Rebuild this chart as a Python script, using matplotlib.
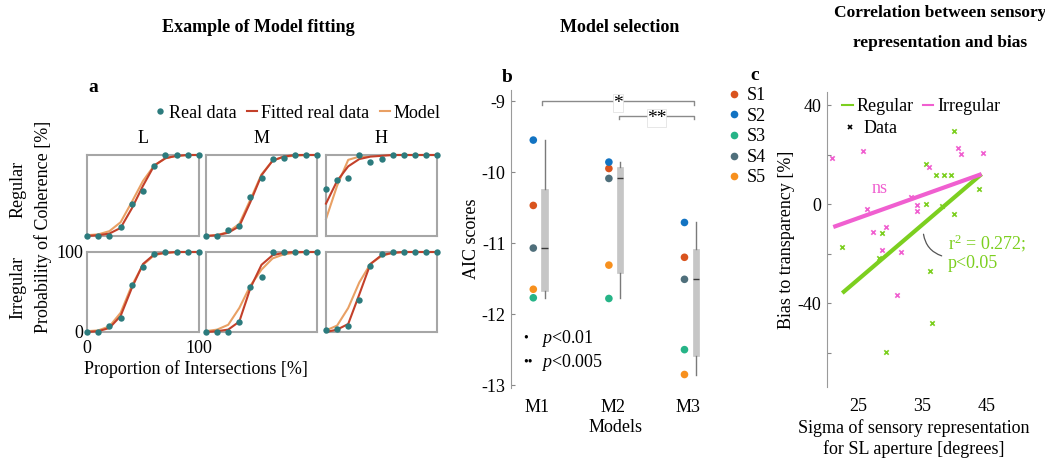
import numpy as np
import matplotlib
matplotlib.use("Agg")
import matplotlib.pyplot as plt
from matplotlib.lines import Line2D

plt.rcParams["font.family"] = ["Liberation Serif", "DejaVu Serif"]
plt.rcParams["mathtext.fontset"] = "custom"
plt.rcParams["mathtext.rm"] = "Liberation Serif"
plt.rcParams["mathtext.it"] = "Liberation Serif:italic"

# ---------------- data ----------------
# (a) psychometric curves, x = proportion of intersections
prop_x = [0, 10, 20, 30, 40, 50, 60, 70, 80, 90, 100]
levels = ["L", "M", "H"]
conditions = ["Regular", "Irregular"]

real_reg_L = [0, 0, 0, 11, 40, 55, 86, 100, 100, 100, 100]
real_reg_M = [0, 0, 8, 12, 48, 71, 95, 96, 100, 100, 100]
real_reg_H = [58, 69, 72, 100, 91, 95, 100, 100, 100, 100, 100]
real_irr_L = [0, 0, 8, 18, 59, 81, 97, 100, 100, 100, 100]
real_irr_M = [0, 0, 0, 13, 56, 69, 100, 100, 100, 100, 100]
real_irr_H = [3, 4, 7, 40, 83, 97, 100, 100, 100, 100, 100]

fit_reg_L = [0, 1, 3, 10, 34, 62, 87, 96, 99, 100, 100]
fit_reg_M = [0, 1, 4, 12, 42, 75, 93, 98, 100, 100, 100]
fit_reg_H = [40, 68, 86, 95, 98, 99, 100, 100, 100, 100, 100]
fit_irr_L = [0, 1, 5, 20, 55, 85, 97, 99, 100, 100, 100]
fit_irr_M = [0, 1, 3, 13, 55, 84, 96, 99, 100, 100, 100]
fit_irr_H = [0, 3, 10, 47, 85, 96, 99, 100, 100, 100, 100]

model_reg_L = [1, 2, 6, 17, 42, 68, 87, 96, 99, 100, 100]
model_reg_M = [0, 1, 5, 15, 45, 76, 93, 98, 99, 100, 100]
model_reg_H = [21, 62, 94, 98, 99, 100, 100, 100, 100, 100, 100]
model_irr_L = [1, 2, 7, 24, 58, 84, 96, 99, 100, 100, 100]
model_irr_M = [1, 3, 9, 30, 58, 78, 92, 97, 99, 100, 100]
model_irr_H = [2, 8, 30, 62, 85, 95, 99, 100, 100, 100, 100]

real_data = [[real_reg_L, real_reg_M, real_reg_H], [real_irr_L, real_irr_M, real_irr_H]]
fitted = [[fit_reg_L, fit_reg_M, fit_reg_H], [fit_irr_L, fit_irr_M, fit_irr_H]]
model = [[model_reg_L, model_reg_M, model_reg_H], [model_irr_L, model_irr_M, model_irr_H]]

# (b) AIC scores per subject for each model
models = ["M1", "M2", "M3"]
subjects = ["S1", "S2", "S3", "S4", "S5"]
aic_M1 = [-10.47, -9.55, -11.77, -11.07, -11.65]
aic_M2 = [-9.95, -9.86, -11.78, -10.09, -11.31]
aic_M3 = [-11.20, -10.71, -12.50, -11.51, -12.85]
subject_colors = ["#d9541e", "#1273c2", "#26b487", "#4f6f7b", "#f7901e"]

# (c) bias vs. sigma of sensory representation
reg_sigma = [22.4, 28.7, 28.2, 29.3, 35.5, 35.5, 36.1, 36.5, 37.1, 38.0, 38.4, 39.4, 39.9, 39.9, 43.8]
reg_bias = [-17.4, -11.7, -21.8, -59.8, 16.3, 0.0, -27.0, -48.1, 12.0, -0.7, 11.8, 12.0, 29.6, -4.0, 6.3]
irr_sigma = [20.9, 25.8, 26.3, 27.3, 29.3, 28.7, 31.6, 31.1, 33.2, 34.1, 34.1, 36.0, 40.5, 41.0, 44.4]
irr_bias = [18.8, 21.7, -2.0, -11.3, -9.3, -18.5, -19.4, -36.5, 2.8, -0.2, -2.6, 14.9, 22.7, 20.3, 20.7]
reg_line_x = [22.5, 44.2]
reg_line_y = [-35.9, 12.2]
irr_line_x = [21.1, 44.2]
irr_line_y = [-9.2, 12.2]

# ---------------- styling ----------------
W, H = 1045, 458
fig = plt.figure(figsize=(W / 100, H / 100), dpi=100)


def box(l, t, r, b):
    return [l / W, 1 - b / H, (r - l) / W, (b - t) / H]


FS = 13
TEAL = "#2c7b7d"
RED = "#c3402a"
ORANGE = "#e9a064"
FRAME = "#a6a6a6"
GREEN = "#7ccf1f"
PINK = "#f05fd0"

# ---------------- panel a ----------------
col_px = [(87, 199), (206, 317), (326, 437)]
row_px = [(155, 236), (252, 332)]
for r, (t, b) in enumerate(row_px):
    for c, (l, rr) in enumerate(col_px):
        ax = fig.add_axes(box(l, t, rr, b))
        ax.plot(prop_x, model[r][c], color=ORANGE, lw=1.5, clip_on=False, zorder=2)
        ax.plot(prop_x, fitted[r][c], color=RED, lw=1.5, clip_on=False, zorder=3)
        ax.plot(prop_x, real_data[r][c], "o", color=TEAL, ms=4.6, mec="none",
                clip_on=False, zorder=4)
        ax.set_xlim(0, 100)
        ax.set_ylim(0, 100)
        for s in ax.spines.values():
            s.set_color(FRAME)
            s.set_linewidth(1.5)
        if r == 1 and c == 0:
            ax.set_xticks([0, 100])
            ax.set_yticks([0, 100])
            ax.tick_params(length=0, labelsize=FS)
            ax.tick_params(axis="x", pad=6)
            ax.tick_params(axis="y", pad=3)
        else:
            ax.set_xticks([])
            ax.set_yticks([])
        if r == 0:
            ax.text(0.5, 1.1, levels[c], transform=ax.transAxes, ha="center",
                    va="bottom", fontsize=FS)

fig.text(18 / W, 1 - 189 / H, conditions[0], rotation=90, ha="center", va="center", fontsize=FS)
fig.text(18 / W, 1 - 287 / H, conditions[1], rotation=90, ha="center", va="center", fontsize=FS)
fig.text(43 / W, 1 - 227 / H, "Probability of Coherence [%]", rotation=90,
         ha="center", va="center", fontsize=FS)
fig.text(196 / W, 1 - 369 / H, "Proportion of Intersections [%]", ha="center",
         va="center", fontsize=FS)
fig.text(93 / W, 1 - 88 / H, "a", ha="center", va="center", fontsize=14, fontweight="bold")

handles_a = [
    Line2D([], [], ls="none", marker="o", color=TEAL, ms=4.6, mec="none"),
    Line2D([], [], color=RED, lw=1.5),
    Line2D([], [], color=ORANGE, lw=1.5),
]
fig.legend(handles_a, ["Real data", "Fitted real data", "Model"], loc="center",
           bbox_to_anchor=(298 / W, 1 - 113 / H), ncol=3, frameon=False,
           fontsize=FS, handlelength=0.55, handletextpad=0.2, columnspacing=0.6)

fig.text(258 / W, 1 - 28 / H, "Example of Model fitting", ha="center", va="center",
         fontsize=13, fontweight="bold")

# ---------------- panel b ----------------
axb = fig.add_axes(box(511, 90, 720, 388))
aic_all = [aic_M1, aic_M2, aic_M3]
pos = np.arange(1, len(models) + 1)
for i, vals in enumerate(aic_all):
    axb.scatter([pos[i] - 0.05] * len(vals), vals, s=30, c=subject_colors,
                edgecolors="none", zorder=3, clip_on=False)

stats = []
for vals in aic_all:
    q1, med, q3 = np.percentile(vals, [25, 50, 75], method="hazen")
    stats.append(dict(med=med, q1=q1, q3=q3, whislo=min(vals), whishi=max(vals), fliers=[]))
axb.bxp(stats, positions=pos + 0.10, widths=0.085, patch_artist=True, showcaps=False,
        boxprops=dict(facecolor="#c6c6c6", edgecolor="#c6c6c6", lw=0.5),
        whiskerprops=dict(color="#7a7a7a", lw=1.0),
        medianprops=dict(color="#3a3a3a", lw=1.0), manage_ticks=False)

axb.set_xlim(0.655, 3.42)
axb.set_ylim(-13.04, -8.845)
axb.set_xticks(pos)
axb.set_xticklabels(models)
axb.set_yticks([-9, -10, -11, -12, -13])
axb.set_yticklabels(["-9", "-10", "-11", "-12", "-13"])
axb.tick_params(axis="x", length=0, labelsize=FS, pad=8)
axb.tick_params(axis="y", direction="in", length=3, color="#888888", labelsize=FS, pad=4)
for k in ["top", "right", "bottom"]:
    axb.spines[k].set_visible(False)
axb.spines["left"].set_color("#9a9a9a")
axb.set_xlabel("Models", fontsize=FS, labelpad=2)
axb.set_ylabel("AIC scores", fontsize=FS, labelpad=1)

# significance brackets
def bracket(x0, x1, y, label):
    axb.plot([x0, x0, x1, x1], [y - 0.05, y, y, y - 0.05], color="#8a8a8a", lw=1.0, clip_on=False)
    axb.text((x0 + x1) / 2, y - 0.03, label, ha="center", va="center", fontsize=14,
             bbox=dict(facecolor="white", edgecolor="#dddddd", pad=0.2, lw=0.5))

bracket(1.07, 3.08, -9.0, "*")
bracket(2.08, 3.08, -9.21, "**")

axb.text(0.82, -12.34, "\u2022", fontsize=10, ha="left", va="center")
axb.text(1.05, -12.34, "$p$<0.01", fontsize=FS, ha="left", va="center")
axb.text(0.82, -12.68, "\u2022\u2022", fontsize=10, ha="left", va="center")
axb.text(1.05, -12.68, "$p$<0.005", fontsize=FS, ha="left", va="center")
fig.text(507 / W, 1 - 77 / H, "b", ha="center", va="center", fontsize=14, fontweight="bold")

handles_b = [Line2D([], [], ls="none", marker="o", color=c, ms=5.5, mec="none")
             for c in subject_colors]
fig.legend(handles_b, subjects, loc="upper left", bbox_to_anchor=(718 / W, 1 - 78 / H),
           frameon=False, fontsize=FS, handlelength=0.8, handletextpad=0.3,
           labelspacing=0.2, borderpad=0)

fig.text(620 / W, 1 - 28 / H, "Model selection", ha="center", va="center",
         fontsize=13, fontweight="bold")

# ---------------- panel c ----------------
axc = fig.add_axes(box(827, 92, 1000, 387))
axc.scatter(reg_sigma, reg_bias, marker="x", s=10, lw=1.2, color=GREEN, zorder=3)
axc.scatter(irr_sigma, irr_bias, marker="x", s=10, lw=1.2, color=PINK, zorder=3)
axc.plot(reg_line_x, reg_line_y, color=GREEN, lw=3, solid_capstyle="butt", zorder=2)
axc.plot(irr_line_x, irr_line_y, color=PINK, lw=3, solid_capstyle="butt", zorder=2)
axc.set_xlim(20.12, 47.07)
axc.set_ylim(-73.9, 45.4)
axc.set_xticks([25, 35, 45])
axc.set_yticks([-60, -40, -20, 0, 20, 40])
axc.set_yticklabels(["", "-40", "", "0", "", "40"])
axc.tick_params(axis="x", length=0, labelsize=FS, pad=8)
axc.tick_params(axis="y", direction="in", length=3, color="#888888", labelsize=FS, pad=4)
for k in ["top", "right", "bottom"]:
    axc.spines[k].set_visible(False)
axc.spines["left"].set_color("#9a9a9a")
axc.set_xlabel("Sigma of sensory representation\nfor SL aperture [degrees]", fontsize=FS,
               labelpad=3, linespacing=1.25)
axc.set_ylabel("Bias to transparency [%]", fontsize=FS, labelpad=2)

axc.text(28.3, 3.0, "ns", color=PINK, fontsize=FS, ha="center", va="bottom")
axc.text(38.9, -15.6, "r$^2$ = 0.272;", color=GREEN, fontsize=FS, ha="left", va="center")
axc.text(38.9, -23.8, "p<0.05", color=GREEN, fontsize=FS, ha="left", va="center")
axc.annotate("", xy=(38.4, -21.2), xytext=(35.1, -11.0),
             arrowprops=dict(arrowstyle="-", color="#555555", lw=0.9,
                             connectionstyle="arc3,rad=0.35"))

handles_c = [Line2D([], [], color=GREEN, lw=1.5), Line2D([], [], color=PINK, lw=1.5)]
leg1 = axc.legend(handles_c, ["Regular", "Irregular"], loc="upper left",
                  bbox_to_anchor=(833 / W, 1 - 89 / H), bbox_transform=fig.transFigure,
                  ncol=2, frameon=False, fontsize=FS, handlelength=0.6, handletextpad=0.2,
                  columnspacing=0.5, borderpad=0)
axc.add_artist(leg1)
axc.legend([Line2D([], [], ls="none", marker="x", color="black", ms=3, mew=1.2)], ["Data"],
           loc="upper left", bbox_to_anchor=(836 / W, 1 - 111 / H),
           bbox_transform=fig.transFigure, frameon=False, fontsize=FS,
           handlelength=0.6, handletextpad=0.4, borderpad=0)
fig.text(755 / W, 1 - 75 / H, "c", ha="center", va="center", fontsize=14, fontweight="bold")

fig.text(940 / W, 1 - 13 / H, "Correlation between sensory", ha="center", va="center",
         fontsize=12.5, fontweight="bold")
fig.text(940 / W, 1 - 43 / H, "representation and bias", ha="center", va="center",
         fontsize=12.5, fontweight="bold")

fig.savefig("out.png", dpi=100)
